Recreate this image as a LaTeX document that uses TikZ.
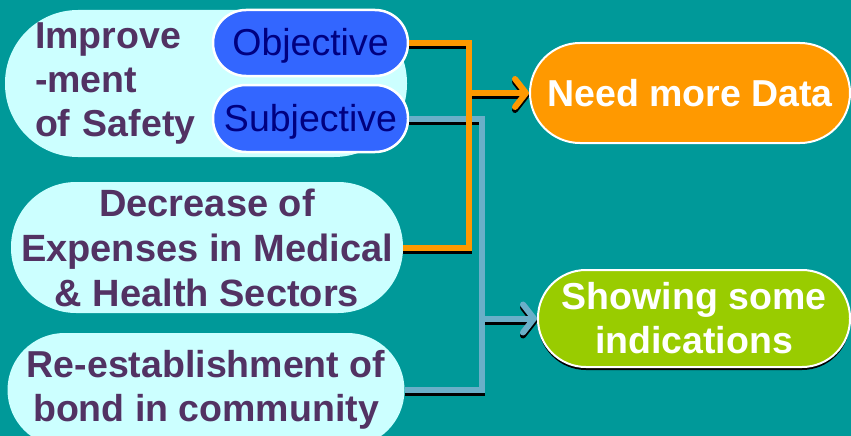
\documentclass[tikz,border=0pt]{standalone}
\usepackage{fontspec}
\setmainfont{Liberation Sans}
\usetikzlibrary{arrows.meta}
\usetikzlibrary{shadows}
\definecolor{bgteal}{HTML}{009999}
\definecolor{palecyan}{HTML}{CCFFFF}
\definecolor{darkplum}{HTML}{523263}
\definecolor{pillblue}{HTML}{3366FF}
\definecolor{navytext}{HTML}{000080}
\definecolor{needorange}{HTML}{FF9900}
\definecolor{limegreen}{HTML}{99CC00}
\definecolor{lineblue}{HTML}{6AAFC8}
\newcommand\bigfont{\fontsize{37.5}{44}\selectfont}
\newcommand\widefont{\fontsize{38}{45}\selectfont}
\tikzset {
  % light pills on the left
  goal/.style={fill=palecyan, text=darkplum, font=\bigfont\bfseries, align=center, inner sep=0pt},
  % the two blue pills
  kind/.style={draw=white, line width=2.5pt, fill=pillblue, text=navytext, font=\bigfont, inner sep=0pt},
  % pills on the right
  result/.style={draw=white, line width=2pt, text=white, font=\bigfont\bfseries, align=center, inner sep=0pt},
  % connectors and their shadow
  link/.style={line width=6pt},
  shade/.style={link, black, transform canvas={yshift=-3pt}},
  tip/.style={-{Straight Barb[length=11pt, width=28pt, round]}},
}

\begin{document}
\begin{tikzpicture}[x=1pt, y=-1pt]
  \fill[bgteal] (0,0) rectangle (851,436);
  \useasboundingbox (0,0) rectangle (851,436);

  \node[goal, minimum width=402pt, minimum height=147pt, rounded corners=73pt, text width=342pt, align=left] (safety) at (206,83.5) {Improve\\-ment\\of Safety};
  \node[kind, minimum width=195pt, minimum height=66pt, rounded corners=33pt, text depth=2pt] (obj) at (310.5,43) {Objective};
  \node[kind, minimum width=195pt, minimum height=67pt, rounded corners=33pt, text depth=2pt] (subj) at (310.5,118.5) {Subjective};
  \node[goal, font=\widefont\bfseries, minimum width=392pt, minimum height=131pt, rounded corners=65pt] (dec) at (207,247.5) {Decrease of\\Expenses in Medical\\\& Health Sectors};
  \node[goal, minimum width=397pt, minimum height=114pt, rounded corners=57pt] (bond) at (206,390) {Re-establishment of\\bond in community};

  \node[result, fill=needorange, minimum width=320pt, minimum height=100pt, rounded corners=50pt] (data) at (690,93) {Need more Data};
  \node[result, fill=limegreen, minimum width=312pt, minimum height=97pt, rounded corners=48pt,
        drop shadow={shadow xshift=0pt, shadow yshift=-3pt, fill=black, opacity=1}] (ind) at (694,318.5) {Showing some\\indications};

  \coordinate (obus) at (468.5,0);
  \coordinate (sbus) at (481.5,0);

  % blue: subjective and community
  \draw[shade] (subj.east) -| (sbus |- bond.east) -- (bond.east);
  \draw[shade, tip] (sbus |- ind.west) -- (ind.west);
  \draw[link, lineblue] (subj.east) -| (sbus |- bond.east) -- (bond.east);
  \draw[link, lineblue, tip] (sbus |- ind.west) -- (ind.west);

  % orange: objective and expenses
  \draw[shade] (obj.east) -| (obus |- dec.east) -- (dec.east);
  \draw[shade, tip] (obus |- data.west) -- (data.west);
  \draw[link, needorange] (obj.east) -| (obus |- dec.east) -- (dec.east);
  \draw[link, needorange, tip] (obus |- data.west) -- (data.west);
\end{tikzpicture}
\end{document}
